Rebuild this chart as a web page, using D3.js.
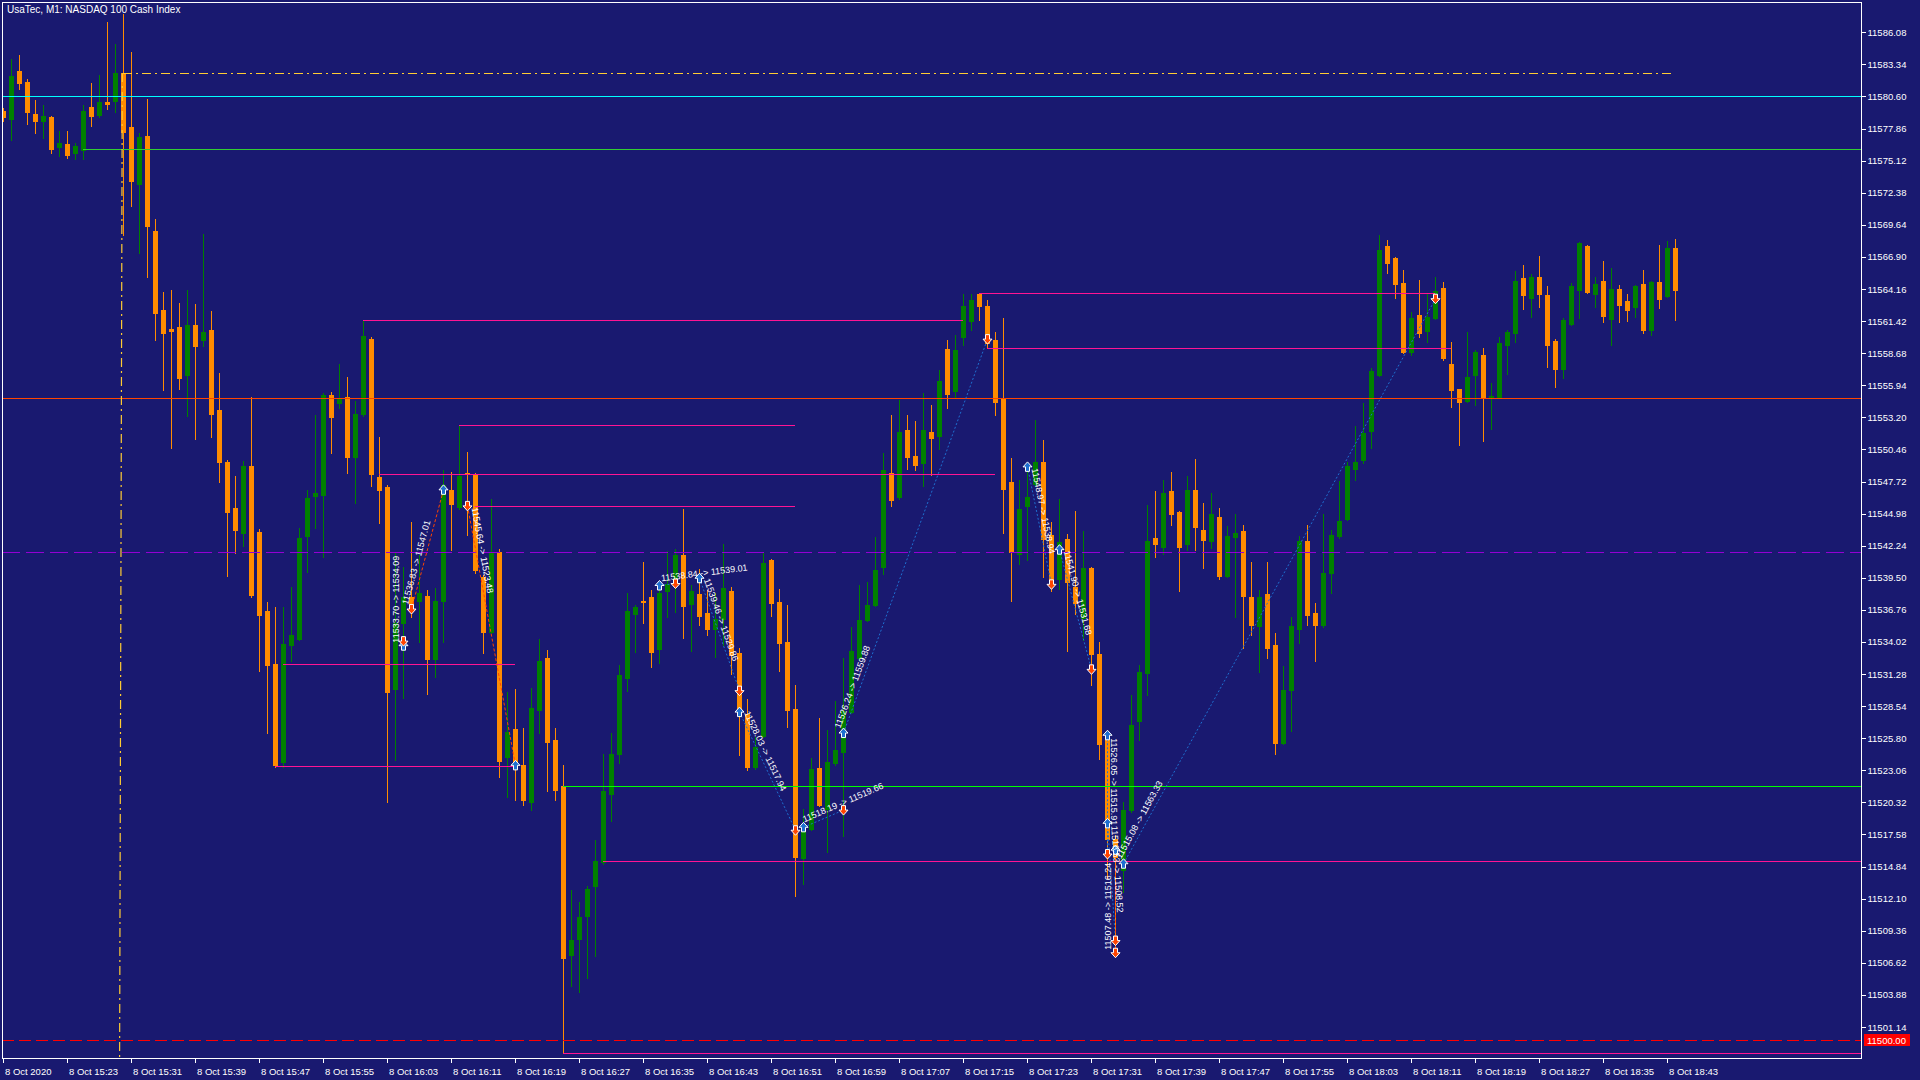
<!DOCTYPE html>
<html>
<head>
<meta charset="utf-8">
<script src="https://cdn.jsdelivr.net/npm/d3@7/dist/d3.min.js"></script>
<style>
html,body{margin:0;padding:0;background:#191970;overflow:hidden;}
svg{display:block;}
text{font-family:"Liberation Sans",Arial,sans-serif;}
</style>
</head>
<body>
<svg id="chart" width="1920" height="1080"></svg>
<script>
// ---------------- DATA ----------------
const chartTitle = "UsaTec, M1:  NASDAQ 100 Cash Index";

const openPrices = [
11579.36,11578.68,11582.78,11581.84,11579.10,11578.51,11578.85,11576.29,11576.54,11575.77,
11576.03,11579.70,11579.02,11580.13,11580.21,11582.61,11577.99,11573.13,11577.23,11569.11,
11562.37,11560.74,11560.91,11556.82,11561.09,11559.80,11560.66,11553.83,11549.39,11545.46,
11543.32,11549.04,11543.41,11536.66,11532.13,11523.77,11533.76,11534.27,11543.07,11546.48,
11546.57,11555.11,11554.42,11554.94,11549.81,11553.48,11559.89,11548.10,11547.25,11530.00,
11535.64,11537.86,11537.52,11537.94,11532.56,11537.52,11546.99,11545.54,11548.45,11548.28,
11539.56,11534.87,11541.70,11524.19,11526.58,11523.51,11520.35,11528.21,11532.65,11525.64,
11521.72,11507.28,11508.65,11510.61,11513.18,11515.23,11521.03,11524.45,11530.94,11536.40,
11537.52,11537.86,11533.42,11538.37,11538.88,11541.44,11537.26,11538.11,11536.49,11535.12,
11535.98,11538.37,11533.07,11527.86,11523.34,11525.99,11541.02,11537.43,11534.01,11528.29,
11515.57,11518.04,11523.25,11519.75,11523.68,11524.62,11528.04,11532.65,11535.89,11537.17,
11540.42,11548.45,11546.40,11552.12,11549.90,11549.30,11551.95,11551.61,11559.04,11555.45,
11560.06,11561.43,11563.73,11562.71,11559.80,11554.85,11547.68,11541.53,11545.63,11547.51,
11549.39,11543.15,11539.39,11542.81,11538.71,11536.06,11540.33,11532.99,11525.64,11517.19,
11514.54,11519.67,11527.27,11531.37,11542.90,11542.13,11546.91,11545.12,11542.38,11546.99,
11543.58,11542.64,11544.69,11539.65,11542.98,11543.49,11537.86,11535.38,11538.11,11533.76,
11525.39,11529.91,11535.12,11542.64,11536.49,11535.47,11539.91,11543.07,11544.52,11548.79,
11549.56,11552.03,11556.82,11567.83,11566.81,11564.67,11558.78,11561.94,11560.57,11561.68,
11564.25,11557.75,11555.62,11554.60,11556.82,11558.52,11554.85,11554.94,11559.38,11560.40,
11565.10,11563.39,11565.18,11563.65,11559.72,11557.33,11561.17,11564.07,11567.83,11563.73,
11564.84,11561.60,11564.16,11563.13,11562.62,11564.59,11560.66,11564.76,11563.56,11567.66];

const highPrices = [
11579.62,11583.80,11584.14,11582.09,11580.30,11579.87,11578.93,11577.65,11577.65,11576.63,
11579.87,11581.75,11582.44,11586.96,11585.08,11587.64,11584.40,11577.48,11580.39,11570.14,
11563.90,11564.07,11562.96,11564.07,11562.88,11568.86,11562.28,11556.99,11549.56,11548.19,
11549.47,11554.94,11543.66,11537.43,11537.00,11537.00,11538.71,11543.75,11546.99,11553.40,
11555.28,11555.36,11557.75,11556.64,11554.60,11561.51,11560.06,11551.52,11547.42,11541.61,
11540.42,11544.26,11541.44,11538.45,11538.63,11548.70,11548.53,11552.55,11550.24,11548.45,
11539.74,11546.23,11541.96,11529.74,11530.00,11526.67,11530.09,11534.27,11533.33,11526.67,
11523.51,11512.83,11511.81,11513.18,11517.10,11524.45,11526.24,11532.05,11538.20,11537.17,
11540.85,11538.45,11538.80,11541.79,11541.96,11545.37,11538.88,11540.25,11538.45,11538.20,
11542.38,11538.71,11533.50,11529.15,11525.90,11541.70,11541.10,11538.54,11537.17,11530.34,
11519.75,11524.11,11527.52,11526.50,11528.98,11532.65,11535.29,11538.88,11539.14,11542.98,
11550.15,11553.40,11554.68,11553.40,11552.89,11555.28,11554.25,11557.24,11559.80,11560.23,
11563.73,11563.73,11563.82,11563.22,11560.49,11561.68,11549.73,11547.85,11548.96,11552.97,
11551.26,11544.26,11546.23,11543.24,11545.20,11543.49,11540.42,11534.01,11525.90,11517.53,
11520.35,11529.49,11532.05,11545.71,11546.91,11547.85,11548.53,11545.20,11548.19,11549.64,
11545.88,11546.74,11545.46,11543.92,11544.94,11544.01,11540.85,11538.45,11540.85,11534.78,
11531.96,11536.15,11543.07,11544.01,11537.34,11544.94,11543.58,11547.76,11549.39,11552.46,
11554.42,11557.41,11568.77,11568.34,11566.89,11565.78,11562.20,11564.93,11563.82,11565.18,
11564.76,11559.63,11555.62,11560.49,11558.95,11559.12,11556.13,11560.06,11560.66,11565.70,
11566.21,11565.44,11566.98,11564.42,11559.89,11561.68,11564.67,11568.17,11567.92,11565.18,
11566.55,11565.95,11564.50,11563.73,11564.50,11565.78,11564.84,11567.92,11568.26,11568.43];

const lowPrices = [
11578.51,11576.88,11581.24,11578.25,11577.48,11577.06,11575.77,11575.52,11575.35,11575.26,
11575.26,11578.08,11578.85,11579.53,11579.28,11568.77,11571.25,11567.23,11565.18,11559.80,
11555.53,11550.58,11555.62,11553.31,11551.35,11559.29,11551.52,11547.68,11539.65,11541.61,
11542.21,11537.86,11531.54,11526.24,11523.34,11523.34,11532.39,11534.18,11539.99,11543.75,
11541.27,11550.15,11554.00,11548.45,11545.88,11553.31,11547.34,11544.18,11520.35,11523.94,
11529.23,11536.15,11534.01,11529.57,11531.02,11534.01,11541.87,11545.37,11543.15,11539.91,
11533.07,11534.78,11522.48,11520.78,11520.52,11520.09,11519.67,11526.24,11521.29,11520.52,
11498.91,11504.64,11504.12,11505.32,11507.20,11515.05,11518.73,11523.68,11529.83,11533.16,
11535.64,11531.88,11532.22,11536.15,11536.58,11534.36,11533.25,11535.47,11534.61,11532.73,
11533.76,11531.28,11524.36,11523.08,11523.17,11525.90,11536.23,11531.54,11526.75,11512.32,
11513.35,11517.96,11520.01,11516.08,11523.51,11517.45,11527.95,11532.48,11535.81,11537.09,
11539.82,11545.63,11546.23,11548.79,11548.70,11547.34,11548.28,11550.50,11554.00,11554.85,
11559.38,11560.66,11561.51,11559.12,11553.40,11543.32,11537.52,11540.67,11541.02,11547.34,
11539.56,11538.37,11538.54,11533.25,11536.40,11534.18,11530.34,11524.02,11513.86,11507.11,
11512.66,11519.50,11525.64,11529.49,11541.27,11541.53,11544.01,11538.37,11541.87,11541.87,
11540.33,11542.04,11539.39,11539.56,11536.15,11533.50,11534.61,11531.45,11532.65,11524.45,
11525.30,11526.41,11533.93,11535.47,11532.39,11535.30,11538.20,11542.90,11544.43,11547.85,
11549.30,11550.58,11556.73,11565.53,11563.39,11558.69,11558.52,11560.06,11559.63,11561.60,
11558.10,11554.08,11550.84,11554.51,11554.25,11551.18,11552.20,11554.85,11556.90,11559.63,
11562.45,11561.77,11562.62,11557.50,11555.79,11556.56,11561.09,11561.68,11563.82,11562.62,
11561.34,11559.38,11561.34,11561.43,11561.77,11560.40,11560.23,11562.54,11563.48,11561.51];

const closePrices = [
11578.85,11582.35,11581.75,11579.28,11578.51,11578.93,11576.12,11576.63,11575.60,11576.37,
11579.36,11578.93,11580.13,11579.96,11582.61,11577.57,11573.38,11577.14,11569.54,11562.11,
11560.40,11560.57,11556.56,11561.09,11559.29,11560.49,11553.48,11549.39,11545.12,11543.58,
11549.04,11538.03,11536.32,11532.05,11523.51,11533.84,11534.61,11542.90,11546.31,11546.74,
11555.11,11553.23,11554.77,11549.81,11553.48,11560.15,11548.36,11546.99,11529.74,11535.64,
11537.86,11537.00,11538.20,11532.56,11537.52,11547.42,11545.80,11548.19,11548.36,11540.16,
11534.87,11541.70,11523.85,11526.33,11523.25,11520.52,11528.38,11532.39,11525.47,11521.37,
11507.03,11508.56,11510.53,11512.92,11515.31,11521.29,11524.45,11531.20,11536.66,11537.00,
11537.43,11533.16,11538.20,11538.97,11541.44,11537.09,11538.37,11536.23,11535.12,11535.98,
11538.63,11532.90,11527.86,11523.34,11525.05,11540.76,11537.34,11533.93,11528.21,11515.65,
11517.87,11523.17,11520.09,11523.77,11524.79,11528.12,11533.25,11535.89,11537.17,11540.16,
11548.70,11546.14,11551.95,11549.81,11549.13,11552.12,11551.44,11556.30,11555.19,11558.95,
11562.71,11563.22,11562.71,11559.55,11554.51,11547.08,11541.70,11545.37,11546.40,11549.39,
11542.81,11539.39,11542.55,11539.14,11537.34,11540.33,11532.99,11525.30,11517.19,11515.65,
11519.67,11526.93,11531.45,11542.64,11542.38,11546.74,11544.94,11542.13,11546.99,11543.83,
11542.72,11544.94,11539.65,11543.07,11543.32,11537.94,11535.47,11537.86,11533.50,11525.39,
11529.91,11535.38,11542.64,11536.32,11535.47,11539.91,11543.15,11544.35,11549.04,11549.39,
11551.86,11557.16,11567.49,11566.38,11564.59,11558.78,11561.68,11560.40,11561.77,11563.99,
11558.27,11555.53,11554.51,11556.64,11558.78,11554.85,11555.02,11559.55,11560.49,11564.84,
11563.65,11565.18,11563.73,11559.38,11557.33,11561.51,11564.42,11568.09,11563.90,11564.59,
11561.85,11564.16,11562.79,11562.37,11564.42,11560.66,11564.76,11563.31,11567.66,11564.07];

// time axis (bar index of each labelled minute) and labels
const timeTickBars = [0,8,16,24,32,40,48,56,64,72,80,88,96,104,112,120,128,136,144,152,160,168,176,184,192,200,208];
const timeTickLabels = ["8 Oct 2020","8 Oct 15:23","8 Oct 15:31","8 Oct 15:39","8 Oct 15:47","8 Oct 15:55",
 "8 Oct 16:03","8 Oct 16:11","8 Oct 16:19","8 Oct 16:27","8 Oct 16:35","8 Oct 16:43","8 Oct 16:51",
 "8 Oct 16:59","8 Oct 17:07","8 Oct 17:15","8 Oct 17:23","8 Oct 17:31","8 Oct 17:39","8 Oct 17:47",
 "8 Oct 17:55","8 Oct 18:03","8 Oct 18:11","8 Oct 18:19","8 Oct 18:27","8 Oct 18:35","8 Oct 18:43"];

// price axis ticks
const priceTicks = [11501.14,11503.88,11506.62,11509.36,11512.10,11514.84,11517.58,11520.32,11523.06,
 11525.80,11528.54,11531.28,11534.02,11536.76,11539.50,11542.24,11544.98,11547.72,11550.46,11553.20,
 11555.94,11558.68,11561.42,11564.16,11566.90,11569.64,11572.38,11575.12,11577.86,11580.60,11583.34,11586.08];

// key levels
const bidPrice = 11500.00;
const dashDotLevel = 11582.61, dashDotBar = 15, dashDotBarAtBottom = 14.6;
const cyanLevel = 11580.60;
const greenLevel = 11576.09, greenFromBar = 10;
const orangeRedLevel = 11554.85;
const purpleLevel = 11541.67;
const limeLevel = 11521.72, limeFromBar = 70;

// support / resistance segments (price, from bar, to bar; null = to right edge)
const pinkLevels   = [11498.91,11515.31,11523.40,11532.11,11548.34,11552.54,11545.60,11561.49,11563.78,11559.10];
const pinkFromBars = [70, 75, 34, 35, 47, 57, 59, 45, 122, 123];
const pinkToBars   = [null, null, 64, 64, 124, 99, 99, 120, 179, 181];

// trade history
const tradeSides      = ["buy","sell","sell","buy","buy","buy","buy","buy","buy","buy","buy","buy","sell","buy"];
const tradeOpenBars   = [50, 51, 58, 82, 87, 92, 100, 105, 128, 132, 138, 138, 139, 140];
const tradeOpenPrices = [11533.70,11536.83,11545.64,11538.84,11539.46,11528.03,11518.19,11526.24,11548.97,11541.90,11526.05,11518.53,11507.48,11515.08];
const tradeCloseBars  = [50, 55, 64, 84, 92, 99, 105, 123, 131, 136, 138, 139, 139, 179];
const tradeClosePrices= [11534.09,11547.01,11523.48,11539.01,11529.86,11517.94,11519.66,11559.88,11538.94,11531.68,11515.91,11508.52,11516.24,11563.33];

// ---------------- DRAWING ----------------
const svg = d3.select("#chart");
const plot = {left: 2, top: 2, right: 1862, bottom: 1058};
const x = d3.scaleLinear().domain([-0.1, 232.4]).range([plot.left, plot.right]);
const y = d3.scaleLinear().domain([11498.49, 11588.67]).range([plot.bottom, plot.top]);

const C = {
  bg: "#191970", fg: "#FFFFFF", up: "#008000", down: "#FF8C00",
  dashDot: "#FFCC33", cyan: "#00FFFF", green: "#32CD32", orangeRed: "#FF4500",
  purple: "#9400D3", lime: "#00FF00", bid: "#FF0000", pink: "#FF1493",
  buy: "#1E6FD0", sell: "#FF4500"
};

svg.append("rect").attr("width",1920).attr("height",1080).attr("fill",C.bg);

svg.append("defs").append("clipPath").attr("id","plotClip")
  .append("rect").attr("x",plot.left).attr("y",plot.top)
  .attr("width",plot.right-plot.left).attr("height",plot.bottom-plot.top);

const g = svg.append("g").attr("clip-path","url(#plotClip)");

// candles
const bars = d3.range(openPrices.length).map(i => ({
  i, o: openPrices[i], h: highPrices[i], l: lowPrices[i], c: closePrices[i]
}));
const cg = g.append("g").attr("shape-rendering","crispEdges");
bars.forEach(b => {
  const cx = Math.round(x(b.i));
  const col = b.c >= b.o ? C.up : C.down;
  const yh = Math.round(y(b.h)), yl = Math.round(y(b.l));
  cg.append("rect").attr("x",cx).attr("y",yh).attr("width",1).attr("height",Math.max(1,yl-yh+1)).attr("fill",col);
  const yt = Math.round(y(Math.max(b.o,b.c))), yb = Math.round(y(Math.min(b.o,b.c)));
  cg.append("rect").attr("x",cx-2).attr("y",yt).attr("width",5).attr("height",Math.max(1,yb-yt+1)).attr("fill",col);
});

// horizontal levels
const lg = g.append("g").attr("shape-rendering","crispEdges");
function hline(price, fromBar, toBar, color, dash){
  const yy = Math.round(y(price)) + 0.5;
  const x1 = fromBar == null ? plot.left : Math.round(x(fromBar));
  const x2 = toBar == null ? plot.right : Math.round(x(toBar));
  const l = lg.append("line").attr("x1",x1).attr("x2",x2).attr("y1",yy).attr("y2",yy)
    .attr("stroke",color).attr("stroke-width",1);
  if (dash) l.attr("stroke-dasharray",dash);
}
hline(cyanLevel, null, null, C.cyan);
hline(greenLevel, greenFromBar, null, C.green);
hline(orangeRedLevel, null, null, C.orangeRed);
hline(purpleLevel, null, null, C.purple, "18,6");
hline(limeLevel, limeFromBar, null, C.lime);
pinkLevels.forEach((p,k) => hline(p, pinkFromBars[k], pinkToBars[k], C.pink));
hline(bidPrice, null, null, C.bid, "12,5");
hline(dashDotLevel, dashDotBar, openPrices.length-1, C.dashDot, "9,4,2,4");
// near-vertical dash-dot trend line
g.append("line").attr("x1",x(dashDotBar)-0.5).attr("x2",x(dashDotBarAtBottom))
  .attr("y1",Math.round(y(dashDotLevel))).attr("y2",plot.bottom)
  .attr("stroke",C.dashDot).attr("stroke-width",1.2).attr("stroke-dasharray","9,4,2,4");

// trades
const tg = g.append("g");
function arrow(px, py, up, fill){
  const p = up
    ? "M0,-5 L4.5,0 L2,0 L2,4.5 L-2,4.5 L-2,0 L-4.5,0 Z"
    : "M0,5 L4.5,0 L2,0 L2,-4.5 L-2,-4.5 L-2,0 L-4.5,0 Z";
  tg.append("path").attr("d",p).attr("transform",`translate(${px},${py})`)
    .attr("fill",fill).attr("stroke","#FFFFFF").attr("stroke-width",1);
}
tradeSides.forEach((side,k) => {
  const x1 = Math.round(x(tradeOpenBars[k])) + 0.5, y1 = y(tradeOpenPrices[k]);
  const x2 = Math.round(x(tradeCloseBars[k])) + 0.5, y2 = y(tradeClosePrices[k]);
  tg.append("line").attr("x1",x1).attr("y1",y1).attr("x2",x2).attr("y2",y2)
    .attr("stroke", side === "buy" ? C.buy : C.sell).attr("stroke-width",1)
    .attr("stroke-dasharray", side === "buy" ? "2,2" : "3,2");
});
tradeSides.forEach((side,k) => {
  const x1 = Math.round(x(tradeOpenBars[k])) + 0.5, y1 = y(tradeOpenPrices[k]);
  const x2 = Math.round(x(tradeCloseBars[k])) + 0.5, y2 = y(tradeClosePrices[k]);
  arrow(x1, y1, side === "buy", side === "buy" ? C.buy : C.sell);
  arrow(x2, y2, side !== "buy", side === "buy" ? C.sell : C.buy);
});
tradeSides.forEach((side,k) => {
  const x1 = Math.round(x(tradeOpenBars[k])), y1 = y(tradeOpenPrices[k]);
  const x2 = Math.round(x(tradeCloseBars[k])), y2 = y(tradeClosePrices[k]);
  const ang = Math.atan2(y2-y1, x2-x1) * 180 / Math.PI;
  tg.append("text").attr("transform",`translate(${x1},${y1}) rotate(${ang})`)
    .attr("x",3).attr("y",-4).attr("fill","#FFFFFF").attr("font-size","9px")
    .text(tradeOpenPrices[k].toFixed(2) + " -> " + tradeClosePrices[k].toFixed(2));
});

// frame
svg.append("rect").attr("x",plot.left+0.5).attr("y",plot.top+0.5)
  .attr("width",plot.right-plot.left-1).attr("height",plot.bottom-plot.top)
  .attr("fill","none").attr("stroke",C.fg).attr("stroke-width",1).attr("shape-rendering","crispEdges");

// price axis
const yAxis = d3.axisRight(y).tickValues(priceTicks).tickSize(4).tickPadding(2)
  .tickFormat(d => d.toFixed(2));
const ya = svg.append("g").attr("transform",`translate(${plot.right-0.5},0)`).call(yAxis);
ya.select(".domain").remove();
ya.selectAll("line").attr("stroke",C.fg).attr("shape-rendering","crispEdges");
ya.selectAll("text").attr("fill",C.fg).attr("font-size","9.5px").attr("font-family","Liberation Sans, Arial, sans-serif");

// bid label
const by = Math.round(y(bidPrice));
svg.append("rect").attr("x",plot.right+2).attr("y",by-6).attr("width",46).attr("height",12).attr("fill",C.bid);
svg.append("text").attr("x",plot.right+5).attr("y",by+4).attr("fill","#FFFFFF").attr("font-size","9.5px")
  .text(bidPrice.toFixed(2));

// time axis
const xAxis = d3.axisBottom(x).tickValues(timeTickBars).tickSize(5).tickPadding(3)
  .tickFormat((d,i) => timeTickLabels[i]);
const xa = svg.append("g").attr("transform",`translate(0,${plot.bottom})`).call(xAxis);
xa.select(".domain").remove();
xa.selectAll("line").attr("stroke",C.fg).attr("shape-rendering","crispEdges")
  .attr("transform","translate(0.5,0)");
xa.selectAll("text").attr("fill",C.fg).attr("font-size","9.5px").attr("font-family","Liberation Sans, Arial, sans-serif")
  .attr("text-anchor","start").attr("x",2).attr("dy","0.9em");
xa.selectAll(".tick").attr("transform", d => `translate(${Math.round(x(d))},0)`);

// title
svg.append("text").attr("x",7).attr("y",13).attr("fill",C.fg).attr("font-size","10px").text(chartTitle);
</script>
</body>
</html>
